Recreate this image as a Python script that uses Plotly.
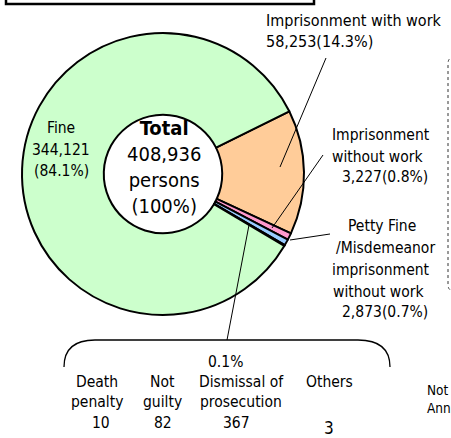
import plotly.graph_objects as go

W, H = 451, 438

categories = ["Imprisonment with work", "Imprisonment without work",
              "Petty Fine/Misdemeanor imprisonment without work", "Others", "Fine"]
values = [58253, 3227, 2873, 462, 344121]
colors = ["#FFCC99", "#FF99CC", "#99CCFF", "#FFFFFF", "#CCFFCC"]

total_persons = 408936
others_breakdown_labels = ["Death<br>penalty", "Not<br>guilty", "Dismissal of<br>prosecution", "Others"]
others_breakdown_values = [10, 82, 367, 3]

FONT = "DejaVu Sans Condensed, DejaVu Sans, sans-serif"


def px(x):
    return x / W


def py(y):
    return 1 - y / H


fig = go.Figure()
fig.add_trace(go.Pie(
    labels=categories, values=values, sort=False, direction="clockwise",
    rotation=63.6, hole=0.42,
    marker=dict(colors=colors, line=dict(color="black", width=2)),
    textinfo="none", hoverinfo="label+value+percent", showlegend=False,
    domain=dict(x=[px(22), px(304)], y=[py(315), py(33)]),
))

ann = []


def add_text(x, y, text, size=15.5, anchor="center", bold=False):
    if bold:
        text = "<b>" + text + "</b>"
    ann.append(dict(x=px(x), y=py(y), xref="paper", yref="paper", text=text,
                    showarrow=False, xanchor=anchor, yanchor="middle",
                    font=dict(family=FONT, size=size, color="black")))


# Center (one block)
add_text(164, 167, f"<b>Total</b><br>{total_persons:,}<br>persons<br>(100%)", size=20)

# Fine
add_text(61, 128, "Fine")
add_text(61, 150, f"{values[4]:,}")
add_text(61, 171, "(84.1%)")

# Imprisonment with work
add_text(264, 20, "Imprisonment with work", anchor="left", size=16)
add_text(264, 42, f"{values[0]:,}(14.3%)", anchor="left", size=16)

# Imprisonment without work
add_text(381, 135, "Imprisonment")
add_text(378, 157, "without work")
add_text(385, 177, f"{values[1]:,}(0.8%)")

# Petty
add_text(382, 226, "Petty Fine")
add_text(385, 248, "/Misdemeanor")
add_text(381, 270, "imprisonment")
add_text(379, 292, "without work")
add_text(385, 312, f"{values[2]:,}(0.7%)")

# Bracket breakdown
add_text(225, 362, "0.1%")
xs = [97, 162, 241, 329]
num_x = [101, 163, 236, 329]
for x, nx, lab, v in zip(xs, num_x, others_breakdown_labels, others_breakdown_values):
    parts = lab.split("<br>")
    add_text(x, 382, parts[0])
    if len(parts) > 1:
        add_text(x, 402, parts[1])
    add_text(nx, 428 if v == 3 else 423, str(v), size=17 if v == 3 else 15.5)

# Cut-off note text at right edge (as in the reference)
add_text(425, 390, "Not", anchor="left", size=13.5)
add_text(425, 408, "Ann", anchor="left", size=13.5)

shapes = []


def line(x0, y0, x1, y1, width=1, dash=None):
    shapes.append(dict(type="line", xref="paper", yref="paper",
                       x0=px(x0), y0=py(y0), x1=px(x1), y1=py(y1),
                       line=dict(color="black", width=width, dash=dash)))


line(326, 58, 280, 167)
line(323, 155, 272, 228)
line(290, 240, 330, 234)
line(249, 225, 227, 340)


def P(x, y):
    return f"{px(x):.5f},{py(y):.5f}"


bracket = (f"M {P(64, 367)} Q {P(64, 340)} {P(95, 340)} L {P(358, 340)} "
           f"Q {P(390, 340)} {P(390, 367)}")
shapes.append(dict(type="path", xref="paper", yref="paper", path=bracket,
                   line=dict(color="black", width=1.3)))

# top title box (cut off)
shapes.append(dict(type="rect", xref="paper", yref="paper",
                   x0=px(6), x1=px(314), y0=py(4), y1=py(-20),
                   line=dict(color="black", width=2.5)))

# right dotted box edge (cut off)
dotted = (f"M {P(455, 58)} L {P(452, 58)} Q {P(448, 58)} {P(448, 64)} L {P(448, 285)} "
          f"Q {P(448, 291)} {P(455, 291)}")
shapes.append(dict(type="path", xref="paper", yref="paper", path=dotted,
                   line=dict(color="#333333", width=1, dash="dot")))

fig.update_layout(width=W, height=H, margin=dict(l=0, r=0, t=0, b=0),
                  paper_bgcolor="white", plot_bgcolor="white",
                  annotations=ann, shapes=shapes)

fig.write_html("out.html", config={"displayModeBar": False},
               post_script="document.body.style.margin='0';document.body.style.overflow='hidden';")
